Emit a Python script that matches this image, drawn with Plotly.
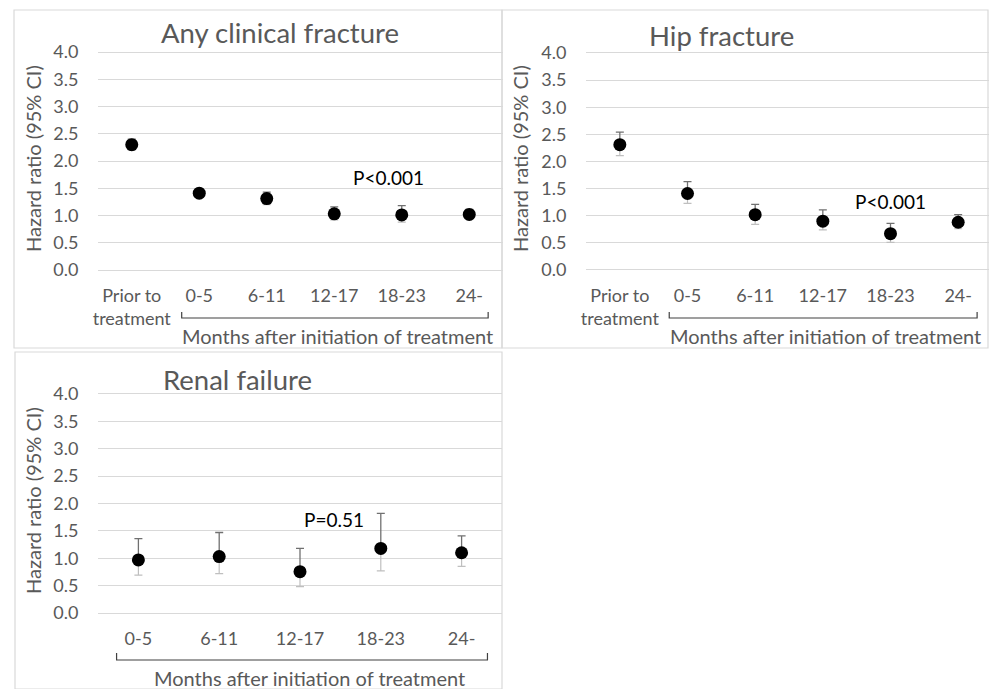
import plotly.graph_objects as go

W, H = 989, 689

# ---------------- data ----------------
cats_fx = ["Prior to<br>treatment", "0-5", "6-11", "12-17", "18-23", "24-"]
any_hr = [2.30, 1.41, 1.31, 1.03, 1.01, 1.02]
any_lo = [2.20, 1.36, 1.20, 0.92, 0.88, 0.94]
any_hi = [2.40, 1.47, 1.43, 1.16, 1.18, 1.11]

hip_hr = [2.31, 1.41, 1.02, 0.90, 0.67, 0.88]
hip_lo = [2.11, 1.23, 0.84, 0.74, 0.51, 0.76]
hip_hi = [2.54, 1.63, 1.21, 1.11, 0.86, 1.02]

cats_rf = ["0-5", "6-11", "12-17", "18-23", "24-"]
ren_hr = [0.97, 1.03, 0.755, 1.18, 1.10]
ren_lo = [0.69, 0.72, 0.48, 0.77, 0.85]
ren_hi = [1.36, 1.47, 1.18, 1.82, 1.41]

y_ticks = [0.0, 0.5, 1.0, 1.5, 2.0, 2.5, 3.0, 3.5, 4.0]
y_ticktext = ["%.1f" % v for v in y_ticks]

titles = ["Any clinical fracture", "Hip fracture", "Renal failure"]
pvals = ["P<0.001", "P<0.001", "P=0.51"]
xlabel = "Months after initiation of treatment"
ylabel = "Hazard ratio (95% CI)"

GRAY = "#595959"
FONT = "Lato, 'Open Sans', sans-serif"

def px(x):
    return x / W

def py(y):
    return 1 - y / H

fig = go.Figure()

panels = [
    dict(xl=98, xr=503, span=405, y0=270, y4=52, cats=cats_fx, hr=any_hr, lo=any_lo, hi=any_hi),
    dict(xl=586, xr=989, span=406, y0=270, y4=53, cats=cats_fx, hr=hip_hr, lo=hip_lo, hi=hip_hi),
    dict(xl=98, xr=502, span=404, y0=613, y4=394, cats=cats_rf, hr=ren_hr, lo=ren_lo, hi=ren_hi),
]

for i, p in enumerate(panels):
    n = len(p["cats"])
    sfx = "" if i == 0 else str(i + 1)
    xa, ya = "x" + sfx, "y" + sfx
    ppu = (p["y0"] - p["y4"]) / 4.0
    pad = 0.06
    ybot = p["y0"] + pad * ppu
    ytop = p["y4"] - pad * ppu
    spacing = p["span"] / n
    xmax = -0.5 + (p["xr"] - p["xl"]) / spacing
    xs = list(range(n))
    up = [h - v for h, v in zip(p["hi"], p["hr"])]
    dn = [v - l for v, l in zip(p["hr"], p["lo"])]
    fig.add_trace(go.Scatter(
        x=xs, y=p["hr"], mode="markers", xaxis=xa, yaxis=ya,
        marker=dict(size=1, color="rgba(0,0,0,0)"),
        error_y=dict(type="data", symmetric=False, array=[0] * n, arrayminus=dn,
                     color="#bfbfbf", thickness=1.2, width=4),
        showlegend=False, hoverinfo="skip"))
    fig.add_trace(go.Scatter(
        x=xs, y=p["hr"], mode="markers", xaxis=xa, yaxis=ya,
        marker=dict(size=1, color="rgba(0,0,0,0)"),
        error_y=dict(type="data", symmetric=False, array=up, arrayminus=[0] * n,
                     color="#707070", thickness=1.3, width=4),
        showlegend=False, hoverinfo="skip"))
    fig.add_trace(go.Scatter(
        x=xs, y=p["hr"], mode="markers", xaxis=xa, yaxis=ya,
        marker=dict(size=13, color="black"),
        showlegend=False))

    fig.layout["xaxis" + sfx] = dict(
        domain=[px(p["xl"]), px(p["xr"])], range=[-0.5, xmax], automargin=False,
        tickvals=xs, ticktext=p["cats"], showgrid=False, zeroline=False,
        showline=False, ticks="outside", ticklen=6, tickcolor="rgba(0,0,0,0)",
        tickfont=dict(family=FONT, size=18, color=GRAY), anchor=ya, fixedrange=True)
    fig.layout["yaxis" + sfx] = dict(
        domain=[py(ybot), py(ytop)], range=[-pad, 4 + pad], automargin=False,
        tickvals=y_ticks, ticktext=y_ticktext, showgrid=True, gridcolor="#d9d9d9",
        gridwidth=1, zeroline=False, showline=False, ticks="outside", ticklen=15,
        tickcolor="rgba(0,0,0,0)", tickfont=dict(family=FONT, size=18, color=GRAY),
        anchor=xa, fixedrange=True)

borders = [(14, 10, 502, 348), (502, 10, 988, 348), (15, 352, 502, 689)]
for (x0, y0, x1, y1) in borders:
    fig.add_shape(type="rect", xref="paper", yref="paper",
                  x0=px(x0), x1=px(x1), y0=py(y1), y1=py(y0),
                  line=dict(color="#d9d9d9", width=1.2), layer="below")

brackets = [("x", 0.74, 5.28, 318, 312), ("x2", 0.73, 5.28, 318, 312), ("x3", -0.27, 4.32, 660, 653)]
for xr, a, b, yl, yt in brackets:
    fig.add_shape(type="path", xref=xr, yref="paper",
                  path="M %f,%f L %f,%f L %f,%f L %f,%f" % (a, py(yt), a, py(yl), b, py(yl), b, py(yt)),
                  line=dict(color="#404040", width=1.2))

anns = []
title_pos = [(280, 33), (721, 35), (237, 379)]
for t, (x, y) in zip(titles, title_pos):
    anns.append(dict(text=t, x=px(x), y=py(y), xref="paper", yref="paper", showarrow=False,
                     font=dict(family=FONT, size=27.5, color=GRAY), xanchor="center", yanchor="middle"))
ylab_pos = [(33, 159), (520, 159), (33, 501)]
for (x, y) in ylab_pos:
    anns.append(dict(text=ylabel, x=px(x), y=py(y), xref="paper", yref="paper", showarrow=False,
                     textangle=-90, font=dict(family=FONT, size=20, color=GRAY),
                     xanchor="center", yanchor="middle"))
xlab_pos = [(337, 336), (825, 336), (309, 678)]
for (x, y) in xlab_pos:
    anns.append(dict(text=xlabel, x=px(x), y=py(y), xref="paper", yref="paper", showarrow=False,
                     font=dict(family=FONT, size=20, color=GRAY), xanchor="center", yanchor="middle"))
p_pos = [(388, 177), (890, 202), (334, 519)]
for t, (x, y) in zip(pvals, p_pos):
    anns.append(dict(text=t, x=px(x), y=py(y), xref="paper", yref="paper", showarrow=False,
                     font=dict(family=FONT, size=19, color="black"), xanchor="center", yanchor="middle"))

fig.update_layout(width=W, height=H, margin=dict(l=0, r=0, t=0, b=0, autoexpand=False),
                  paper_bgcolor="white", plot_bgcolor="white", annotations=anns,
                  showlegend=False)

fig.write_html("out.html", config={"displayModeBar": False},
               post_script="document.body.style.margin='0';")
